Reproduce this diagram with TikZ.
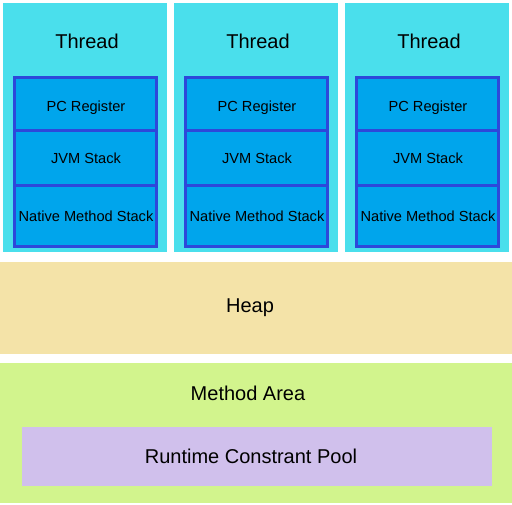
\documentclass[tikz,border=0pt]{standalone}
\usepackage{fontspec}
\setmainfont{Liberation Sans}
\definecolor{threadbg}{HTML}{4ADFEC}
\definecolor{stackbg}{HTML}{00A5EC}
\definecolor{stackline}{HTML}{2D48DA}
\definecolor{heapbg}{HTML}{F4E3A8}
\definecolor{methodbg}{HTML}{D2F48D}
\definecolor{poolbg}{HTML}{D0C0EC}
\newcommand{\shiftdown}[2]{\raisebox{-#1}[0pt][0pt]{#2}}
\tikzset{
  area/.style={inner sep=0pt, outer sep=0pt},
  slot/.style={draw=stackline, line width=3pt, fill=stackbg, inner sep=0pt, outer sep=0pt,
    minimum width=142pt, text height=10pt, text depth=0pt, font=\fontsize{14.6}{16}\selectfont},
  title/.style={font=\fontsize{20}{22}\selectfont},
}
\begin{document}
\begin{tikzpicture}[x=1pt,y=-1pt]
\useasboundingbox[fill=white] (0,0) rectangle (512,505);
% three thread columns
\foreach \i/\x in {1/3,2/174,3/345}{
  \fill[threadbg] (\x,3) rectangle ++(164,249);
  \node[title] (t\i) at (\x+84,41) {Thread};
  \node[slot, minimum height=53pt] (pc\i) at (\x+82,104.5) {\hspace{2pt}\shiftdown{2.5pt}{PC Register}};
  \node[slot, minimum height=55pt] (jvm\i) at (\x+82,158.5) {\hspace{2pt}\shiftdown{0.5pt}{JVM Stack}};
  \node[slot, minimum height=61pt] (nms\i) at (\x+82,216.5) {\hspace{2pt}Native Method Stack};
}
% heap
\fill[heapbg] (0,262) rectangle (512,354);
\node[title] (heap) at (250,307.5) {Heap};
% method area with runtime constant pool
\fill[methodbg] (0,363) rectangle (512,503);
\node[title] (method) at (248,393.5) {Method Area};
\node[area, fill=poolbg, minimum width=470pt, minimum height=59pt, text height=14pt, text depth=0pt,
  font=\fontsize{20}{22}\selectfont]
  (pool) at (257,456.5) {\hspace{-12pt}\shiftdown{0.5pt}{Runtime Constrant Pool}};
\end{tikzpicture}
\end{document}
